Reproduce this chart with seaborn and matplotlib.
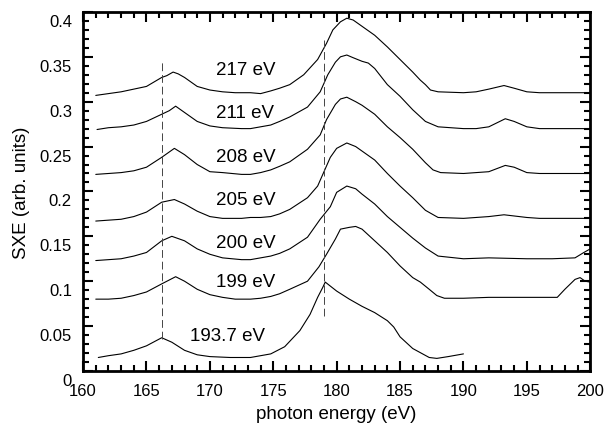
import matplotlib
matplotlib.use("Agg")
import matplotlib.pyplot as plt
import matplotlib.transforms as mtransforms
from matplotlib.ticker import MultipleLocator
import pandas as pd
import seaborn as sns

# SXE spectra (photon energy in eV, intensity in arb. units)
x_217 = [161, 162, 163, 164, 165, 166.2, 166.6, 167.1, 167.5, 168, 169, 170, 171, 172, 173.2, 174, 174.8,
         175.5, 176.3, 177.4, 178.5, 179.2, 179.7, 180.3, 180.8, 181.3, 182, 183, 184, 185, 186, 186.6, 187,
         187.4, 188, 190, 191, 192, 193.2, 194, 195, 196, 198, 200]
y_217 = [0.307, 0.309, 0.311, 0.314, 0.317, 0.327, 0.329, 0.333, 0.331, 0.327, 0.317, 0.313, 0.311, 0.310,
         0.310, 0.309, 0.312, 0.315, 0.319, 0.330, 0.347, 0.365, 0.380, 0.389, 0.393, 0.391, 0.384, 0.374,
         0.361, 0.347, 0.333, 0.324, 0.319, 0.313, 0.311, 0.310, 0.311, 0.314, 0.318, 0.315, 0.311, 0.310,
         0.310, 0.310]

x_211 = [161.1, 162, 163, 164, 165, 166.2, 166.8, 167.3, 167.6, 168, 169, 170, 171, 172.5, 173.2, 174, 174.8,
         175.5, 176.3, 177.7, 178.7, 179.3, 179.9, 180.3, 180.8, 181.3, 182, 182.5, 183, 184, 185, 186, 187,
         188, 190, 191, 192, 193.3, 194, 195, 196, 198, 200]
y_211 = [0.269, 0.271, 0.272, 0.274, 0.278, 0.286, 0.290, 0.295, 0.292, 0.288, 0.278, 0.273, 0.271, 0.270,
         0.270, 0.272, 0.274, 0.278, 0.283, 0.294, 0.311, 0.330, 0.344, 0.350, 0.352, 0.349, 0.345, 0.343,
         0.337, 0.319, 0.306, 0.291, 0.278, 0.272, 0.270, 0.270, 0.272, 0.281, 0.278, 0.272, 0.270, 0.270,
         0.270]

x_208 = [161, 162, 163, 164, 165, 166.2, 166.8, 167.2, 168, 169, 170, 171, 172.5, 173.2, 174, 174.8, 175.5,
         176.3, 177.7, 178.7, 179.2, 179.9, 180.3, 180.8, 181.5, 182, 183, 184, 185, 186, 187, 187.6, 188.2,
         190, 192, 193.3, 194, 195, 196, 198, 200]
y_208 = [0.219, 0.220, 0.221, 0.223, 0.227, 0.238, 0.244, 0.248, 0.241, 0.230, 0.222, 0.221, 0.219, 0.219,
         0.221, 0.224, 0.228, 0.233, 0.247, 0.263, 0.280, 0.297, 0.303, 0.305, 0.300, 0.296, 0.286, 0.272,
         0.260, 0.247, 0.232, 0.224, 0.221, 0.220, 0.222, 0.229, 0.227, 0.221, 0.220, 0.220, 0.220]

x_205 = [161, 162, 163, 164, 165, 166.2, 167.2, 168, 169, 170, 171, 172.5, 173.2, 174, 174.8, 175.5, 176.3,
         177.7, 178.5, 179, 179.5, 180, 180.8, 181.5, 182, 183, 184, 185, 186, 187, 188, 190, 192, 193.2, 195,
         196, 198, 200]
y_205 = [0.167, 0.168, 0.169, 0.172, 0.177, 0.188, 0.191, 0.186, 0.178, 0.172, 0.170, 0.170, 0.171, 0.171,
         0.172, 0.175, 0.180, 0.193, 0.206, 0.222, 0.238, 0.248, 0.254, 0.250, 0.245, 0.235, 0.220, 0.206,
         0.193, 0.179, 0.171, 0.170, 0.172, 0.174, 0.171, 0.170, 0.170, 0.170]

x_200 = [161, 162, 163, 164, 165, 166.2, 167, 168, 169, 170, 171, 172.5, 173.2, 174, 174.8, 175.5, 176.3,
         177.7, 178.7, 179.5, 180, 180.8, 181.5, 182, 183, 184, 185, 186, 187, 188, 190, 192, 195, 197,
         198.8, 199.5, 200]
y_200 = [0.123, 0.124, 0.125, 0.128, 0.132, 0.145, 0.150, 0.145, 0.136, 0.130, 0.126, 0.124, 0.124, 0.126,
         0.128, 0.131, 0.136, 0.149, 0.169, 0.183, 0.199, 0.206, 0.203, 0.197, 0.186, 0.172, 0.160, 0.148,
         0.137, 0.128, 0.125, 0.126, 0.125, 0.125, 0.126, 0.132, 0.136]

x_199 = [161, 162, 163, 164, 165, 166.2, 167.3, 168, 169, 170, 171, 172, 173.2, 174, 174.8, 175.5, 176.3,
         177.7, 178.6, 179.2, 179.9, 180.3, 181, 181.5, 182, 183, 184, 185, 186, 186.6, 187.3, 187.9, 188.5,
         190, 192, 195, 197.4, 198, 198.8, 199.2, 199.6, 200]
y_199 = [0.080, 0.080, 0.081, 0.084, 0.088, 0.097, 0.105, 0.100, 0.091, 0.085, 0.082, 0.080, 0.080, 0.081,
         0.083, 0.086, 0.091, 0.100, 0.116, 0.130, 0.147, 0.158, 0.160, 0.161, 0.158, 0.145, 0.132, 0.117,
         0.104, 0.099, 0.091, 0.084, 0.081, 0.081, 0.082, 0.082, 0.082, 0.091, 0.102, 0.104, 0.100, 0.099]

x_1937 = [161.2, 162, 163, 164, 165, 166.2, 167, 168, 169, 170, 171.6, 173.2, 174.8, 175.9, 177.1, 177.9,
          178.5, 178.9, 179.1, 180, 181, 182, 183, 184, 184.5, 185, 186, 187.3, 187.9, 188.8, 190]
y_1937 = [0.015, 0.017, 0.019, 0.023, 0.028, 0.037, 0.032, 0.023, 0.018, 0.016, 0.015, 0.015, 0.019, 0.027,
          0.045, 0.063, 0.082, 0.093, 0.099, 0.089, 0.080, 0.072, 0.065, 0.056, 0.049, 0.038, 0.025, 0.015,
          0.014, 0.016, 0.019]

curve_names = ["217 eV", "211 eV", "208 eV", "205 eV", "200 eV", "199 eV", "193.7 eV"]
curve_x = [x_217, x_211, x_208, x_205, x_200, x_199, x_1937]
curve_y = [y_217, y_211, y_208, y_205, y_200, y_199, y_1937]

# label positions for each curve
label_x = [172.8, 172.8, 172.8, 172.8, 172.8, 172.8, 171.4]
label_y = [0.336, 0.288, 0.239, 0.191, 0.143, 0.100, 0.040]

# dashed markers
dash_x = [166.2, 179.0]
dash_lo = [0.036, 0.061]
dash_hi = [0.347, 0.369]

yticks = [0, 0.05, 0.1, 0.15, 0.2, 0.25, 0.3, 0.35, 0.4]
ytick_labels = ["0", "0.05", "0.1", "0.15", "0.2", "0.25", "0.3", "0.35", "0.4"]
xticks = [160, 165, 170, 175, 180, 185, 190, 195, 200]

rows = []
for name, xs, ys in zip(curve_names, curve_x, curve_y):
    for a, b in zip(xs, ys):
        rows.append({"curve": name, "energy": a, "sxe": b})
df = pd.DataFrame(rows)

sns.set_style("ticks")
plt.rcParams["font.family"] = ["Liberation Sans", "DejaVu Sans"]
plt.rcParams["text.color"] = "black"
plt.rcParams["axes.labelcolor"] = "black"
plt.rcParams["axes.edgecolor"] = "black"
plt.rcParams["xtick.color"] = "black"
plt.rcParams["ytick.color"] = "black"

fig = plt.figure(figsize=(6.11, 4.31), dpi=100)
ax = fig.add_axes([0.136, 0.137, 0.830, 0.833])

sns.lineplot(data=df, x="energy", y="sxe", units="curve", estimator=None, sort=False,
             color="black", linewidth=0.8, ax=ax, legend=False)

ax.vlines(dash_x, dash_lo, dash_hi, colors="#444444", linewidth=0.7, linestyles=(0, (8, 4)))

for name, lx, ly in zip(curve_names, label_x, label_y):
    ax.text(lx, ly, name, ha="center", va="center", fontsize=13.5)

ax.set_xlim(160, 200)
ax.set_ylim(0, 0.4)
ax.set_xticks(xticks)
ax.set_yticks(yticks)
ax.set_yticklabels(ytick_labels)
ax.xaxis.set_minor_locator(MultipleLocator(1))
ax.yaxis.set_minor_locator(MultipleLocator(0.01))
ax.tick_params(which="both", direction="in", top=True, right=True, width=1.5, labelsize=12)
ax.tick_params(which="major", length=7)
ax.tick_params(which="minor", length=4)
ax.tick_params(axis="x", pad=9)
ax.tick_params(axis="y", pad=8)

# tick labels in the original sit a bit below their ticks
shift = mtransforms.ScaledTranslation(0, -8 / 100, fig.dpi_scale_trans)
for lab in ax.get_yticklabels():
    lab.set_transform(lab.get_transform() + shift)

for sp in ax.spines.values():
    sp.set_linewidth(2)

ax.set_xlabel("photon energy (eV)", fontsize=13.5, labelpad=5)
ax.set_ylabel("SXE (arb. units)", fontsize=13.5, labelpad=7)

fig.savefig("out.png", dpi=100)
